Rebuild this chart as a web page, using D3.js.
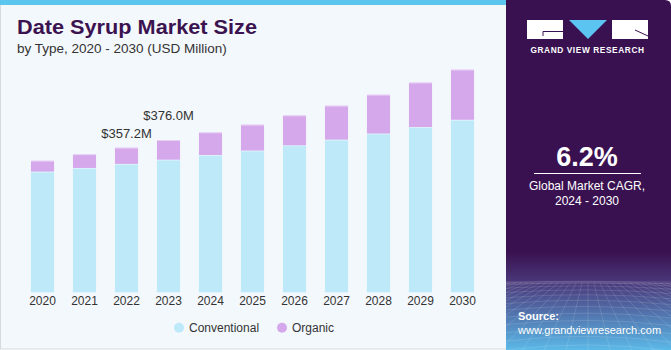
<!DOCTYPE html>
<html>
<head>
<meta charset="utf-8">
<script src="https://cdn.jsdelivr.net/npm/d3@7"></script>
<style>
  body { margin: 0; padding: 0; background: #fff; }
  svg { display: block; font-family: "Liberation Sans", Arial, sans-serif; }
</style>
</head>
<body>
<div id="chart"></div>
<script>
// data (USD Million)
let years = ["2020","2021","2022","2023","2024","2025","2026","2027","2028","2029","2030"];
let conventional = [298, 307, 317, 327.5, 339, 350, 363, 377, 392, 408, 426];
let organic = [27, 34, 40.2, 48.5, 56, 64, 74, 84, 96, 110, 124];
let labelYears = ["2022", "2023"];
let labelTexts = ["$357.2M", "$376.0M"];
let labelLift = [10, 20];

let seriesNames = ["Conventional", "Organic"];

let W = 671, H = 350;
let panelX = 506;

let convColor = "#bde9f9";
let orgColor = "#d5a8ec";
let darkPurple = "#3a1150";

let svg = d3.select("#chart").append("svg")
    .attr("width", W)
    .attr("height", H);

let defs = svg.append("defs");

// left panel
svg.append("rect")
    .attr("x", 0.5).attr("y", 0)
    .attr("width", panelX).attr("height", H - 1)
    .attr("fill", "#f3f8fc")
    .attr("stroke", "#d6dadd")
    .attr("stroke-width", 1);
svg.append("rect")
    .attr("x", 0).attr("y", 0)
    .attr("width", panelX).attr("height", 5)
    .attr("fill", "#5cc6ee");

// right panel background
let grad = defs.append("linearGradient")
    .attr("id", "panelGrad")
    .attr("x1", 0).attr("y1", 0).attr("x2", 0).attr("y2", 1);
grad.selectAll("stop")
    .data([
        {o: "0%", c: darkPurple},
        {o: "72%", c: darkPurple},
        {o: "81%", c: "#4a3a7c"},
        {o: "100%", c: "#5bb9e8"}
    ])
    .enter().append("stop")
    .attr("offset", d => d.o)
    .attr("stop-color", d => d.c);

defs.append("clipPath").attr("id", "panelClip")
    .append("path")
    .attr("d", `M${panelX},0 H${W - 6} Q${W},0 ${W},6 V${H} H${panelX} Z`);

let rp = svg.append("g").attr("clip-path", "url(#panelClip)");
rp.append("rect")
    .attr("x", panelX).attr("y", 0)
    .attr("width", W - panelX).attr("height", H)
    .attr("fill", "url(#panelGrad)");

// perspective grid at the bottom of the panel
let horizon = 283;
let gridG = rp.append("g")
    .attr("stroke", "#ffffff")
    .attr("stroke-opacity", 0.18)
    .attr("stroke-width", 0.7)
    .attr("fill", "none");
d3.range(-20, 21).forEach(i => {
    let xTop = 588 + i * 6;
    let xBot = 588 + i * 22;
    gridG.append("line")
        .attr("x1", xTop).attr("y1", horizon)
        .attr("x2", xBot).attr("y2", H);
});
d3.range(0, 12).forEach(i => {
    let yy = horizon + Math.pow(i / 11, 1.5) * (H - horizon);
    gridG.append("path")
        .attr("d", `M${panelX},${yy} Q588,${yy - 4 - i * 0.6} ${W},${yy + 1}`);
});
rp.append("rect")
    .attr("x", panelX).attr("y", horizon - 2)
    .attr("width", W - panelX).attr("height", 3)
    .attr("fill", "#ffffff").attr("opacity", 0.08);

// logo
let logo = svg.append("g");
logo.append("rect").attr("x", 527).attr("y", 20).attr("width", 36).attr("height", 19).attr("fill", "#fff");
logo.append("path").attr("d", "M543,36 V31.5 H563").attr("stroke", darkPurple).attr("stroke-width", 1).attr("fill", "none");
logo.append("path").attr("d", "M569,20 H607 L588,39 Z").attr("fill", "#5bc4f1");
logo.append("rect").attr("x", 612).attr("y", 20).attr("width", 36).attr("height", 19).attr("fill", "#fff");
logo.append("path").attr("d", "M635,30 L648,36").attr("stroke", darkPurple).attr("stroke-width", 1);
svg.append("text")
    .attr("x", 587.5).attr("y", 53.3)
    .attr("text-anchor", "middle")
    .attr("fill", "#fff")
    .attr("font-size", 8.3)
    .attr("font-weight", "bold")
    .attr("letter-spacing", 0.6)
    .text("GRAND VIEW RESEARCH");

// CAGR block
svg.append("text")
    .attr("x", 587).attr("y", 165.5)
    .attr("text-anchor", "middle")
    .attr("fill", "#fff")
    .attr("font-size", 27)
    .attr("font-weight", "bold")
    .text("6.2%");
svg.append("line")
    .attr("x1", 534).attr("x2", 641)
    .attr("y1", 173.5).attr("y2", 173.5)
    .attr("stroke", "#fff").attr("stroke-width", 1);
svg.append("text")
    .attr("x", 587).attr("y", 190)
    .attr("text-anchor", "middle")
    .attr("fill", "#fff")
    .attr("font-size", 12)
    .text("Global Market CAGR,");
svg.append("text")
    .attr("x", 587).attr("y", 204.5)
    .attr("text-anchor", "middle")
    .attr("fill", "#fff")
    .attr("font-size", 12)
    .text("2024 - 2030");

// source
svg.append("text")
    .attr("x", 518).attr("y", 319.5)
    .attr("fill", "#fff")
    .attr("font-size", 11)
    .attr("font-weight", "bold")
    .text("Source:");
svg.append("text")
    .attr("x", 518).attr("y", 333.5)
    .attr("fill", "#fff")
    .attr("font-size", 11)
    .text("www.grandviewresearch.com");

// titles
svg.append("text")
    .attr("x", 17).attr("y", 34)
    .attr("fill", "#3b1350")
    .attr("font-size", 21)
    .attr("font-weight", "bold")
    .attr("textLength", 240)
    .attr("lengthAdjust", "spacingAndGlyphs")
    .text("Date Syrup Market Size");
svg.append("text")
    .attr("x", 17).attr("y", 53)
    .attr("fill", "#333")
    .attr("font-size", 13.5)
    .text("by Type, 2020 - 2030 (USD Million)");

// scales
let xScale = d3.scaleBand()
    .domain(years)
    .range([21.5, 483.5])
    .paddingInner(0.45)
    .paddingOuter(0.225);

let yScale = d3.scaleLinear()
    .domain([0, 600])
    .range([292.3, 49.3]);

let data = years.map((y, i) => ({year: y, conv: conventional[i], org: organic[i]}));
let stack = d3.stack().keys(["conv", "org"])(data);
let colors = [convColor, orgColor];

let bars = svg.append("g");
stack.forEach((layer, li) => {
    bars.selectAll("rect.l" + li)
        .data(layer)
        .enter()
        .append("rect")
        .attr("class", "l" + li)
        .attr("x", d => xScale(d.data.year))
        .attr("y", d => yScale(d[1]))
        .attr("width", xScale.bandwidth())
        .attr("height", d => yScale(d[0]) - yScale(d[1]))
        .attr("fill", colors[li]);
    // faint lighter edge at the top of each segment
    bars.selectAll("line.l" + li)
        .data(layer)
        .enter()
        .append("line")
        .attr("x1", d => xScale(d.data.year))
        .attr("x2", d => xScale(d.data.year) + xScale.bandwidth())
        .attr("y1", d => yScale(d[1]) + 0.5)
        .attr("y2", d => yScale(d[1]) + 0.5)
        .attr("stroke", "#ffffff")
        .attr("stroke-opacity", 0.45)
        .attr("stroke-width", 1);
});

// x axis
svg.append("g")
    .attr("transform", "translate(0,294)")
    .call(d3.axisBottom(xScale).tickSize(0).tickPadding(2))
    .call(g => g.select(".domain").remove())
    .selectAll("text")
    .attr("font-family", "Liberation Sans, Arial, sans-serif")
    .attr("font-size", 12)
    .attr("fill", "#333");

// value labels
labelYears.forEach((yr, i) => {
    let d = data[years.indexOf(yr)];
    svg.append("text")
        .attr("x", xScale(yr) + xScale.bandwidth() / 2)
        .attr("y", yScale(d.conv + d.org) - labelLift[i])
        .attr("text-anchor", "middle")
        .attr("fill", "#333")
        .attr("font-size", 13)
        .text(labelTexts[i]);
});

// legend
let legend = svg.append("g");
let legX = [179, 282];
seriesNames.forEach((name, i) => {
    legend.append("circle")
        .attr("cx", legX[i]).attr("cy", 327.7)
        .attr("r", 5)
        .attr("fill", colors[i]);
    legend.append("text")
        .attr("x", legX[i] + 10).attr("y", 332)
        .attr("fill", "#333")
        .attr("font-size", 12)
        .text(name);
});
</script>
</body>
</html>
